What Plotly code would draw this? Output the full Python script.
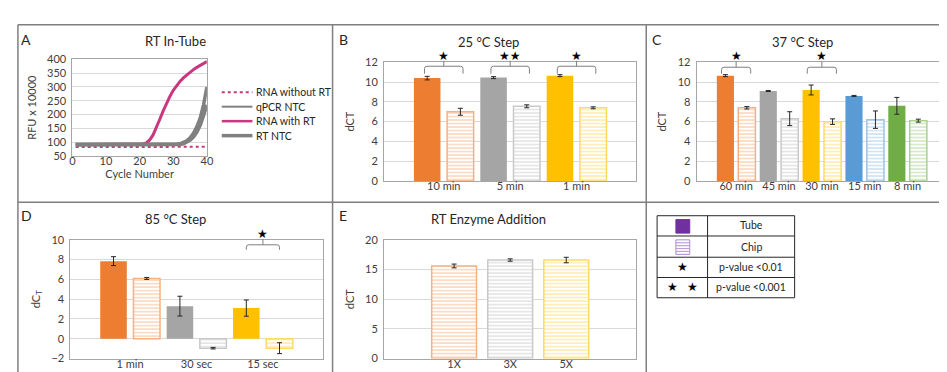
import plotly.graph_objects as go

W, H = 947, 372

# ---------------- data ----------------
cycles = list(range(1, 41))
rna_without_rt = [82, 82, 82, 82, 82, 82, 82, 82, 82, 82, 82, 82, 82, 82, 82, 82, 82, 82, 82, 82,
                  82, 82, 82, 82, 82, 82, 82, 82, 82, 82, 82, 82, 82, 83, 83, 83, 83, 83, 83, 83]
qpcr_ntc = [90, 90, 90, 90, 90, 90, 90, 90, 90, 90, 90, 90, 90, 90, 90, 90, 90, 90, 90, 90,
            90, 90, 90, 90, 90, 90, 90, 90, 91, 91, 92, 94, 98, 105, 116, 132, 155, 187, 235, 300]
rna_with_rt = [91, 91, 91, 91, 91, 91, 91, 91, 91, 91, 91, 91, 91, 91, 91, 91, 91, 91, 91, 92,
               93, 97, 108, 126, 152, 183, 213, 241, 266, 288, 305, 320, 333, 344, 354, 363, 371, 378, 385, 392]
rt_ntc = [91, 91, 91, 91, 91, 91, 91, 91, 91, 91, 91, 91, 91, 91, 91, 91, 91, 91, 91, 91,
          91, 91, 91, 91, 91, 91, 91, 91, 91, 91, 91, 92, 95, 100, 108, 120, 138, 163, 195, 235]

b_cats = ["10 min", "5 min", "1 min"]
b_tube = [10.4, 10.45, 10.65]
b_tube_err = [0.18, 0.1, 0.1]
b_chip = [7.0, 7.55, 7.4]
b_chip_err = [0.35, 0.15, 0.1]
b_sig = [(0, "★"), (1, "★★"), (2, "★")]

c_cats = ["60 min", "45 min", "30 min", "15 min", "8 min"]
c_tube = [10.65, 9.1, 9.2, 8.6, 7.6]
c_tube_err = [0.1, 0.05, 0.5, 0.05, 0.85]
c_chip = [7.4, 6.3, 6.0, 6.2, 6.1]
c_chip_err = [0.12, 0.7, 0.28, 0.88, 0.15]
c_sig = [(0, "★"), (2, "★")]

d_cats = ["1 min", "30 sec", "15 sec"]
d_tube = [7.85, 3.3, 3.1]
d_tube_err = [0.45, 1.0, 0.82]
d_chip = [6.1, -0.95, -0.95]
d_chip_err = [0.1, 0.08, 0.55]
d_sig = [(2, "★")]

e_cats = ["1X", "3X", "5X"]
e_chip = [15.6, 16.6, 16.6]
e_chip_err = [0.32, 0.2, 0.46]

# ---------------- style ----------------
FONT = "Lato, 'Open Sans', sans-serif"
TXT = "#404040"
GRID = "#D9D9D9"
BOX = "#A6A6A6"
MAG = "#C9377E"
GRAY_LINE = "#808080"
tube_cols = ["#ED7D31", "#A5A5A5", "#FFC000", "#5B9BD5", "#70AD47"]
chip_cols = ["#F4B183", "#C9C9C9", "#FFD966", "#9DC3E6", "#A9D18E"]


def X(px):
    return px / W


def Y(py):
    return 1 - py / H


# axis layout (pixel boxes)
boxes = {
    "A": dict(x0=62, x1=198, y0=46, y1=146),
    "B": dict(x0=377, x1=632, y0=49, y1=172),
    "C": dict(x0=693, x1=946, y0=49, y1=172),
    "D": dict(x0=60, x1=315, y0=233, y1=356),
    "E": dict(x0=377, x1=632, y0=233, y1=356),
}
ranges = {
    "A": ([0, 40], [50, 400]),
    "B": ([-0.9, 2.9], [0, 12]),
    "C": ([-0.92, 4.92], [0, 12]),
    "D": ([-0.9, 2.9], [-2, 10]),
    "E": ([-1.25, 3.25], [0, 20]),
}
axn = {"A": "", "B": "2", "C": "3", "D": "4", "E": "5"}

fig = go.Figure()

# ---- panel A lines ----
fig.add_trace(go.Scatter(x=cycles, y=rna_without_rt, mode="lines",
                         line=dict(color=MAG, width=2, dash="dot"), xaxis="x", yaxis="y", showlegend=False))
fig.add_trace(go.Scatter(x=cycles, y=qpcr_ntc, mode="lines",
                         line=dict(color=GRAY_LINE, width=3.5), xaxis="x", yaxis="y", showlegend=False))
fig.add_trace(go.Scatter(x=cycles, y=rna_with_rt, mode="lines",
                         line=dict(color=MAG, width=3), xaxis="x", yaxis="y", showlegend=False))
fig.add_trace(go.Scatter(x=cycles, y=rt_ntc, mode="lines",
                         line=dict(color=GRAY_LINE, width=4), xaxis="x", yaxis="y", showlegend=False))


def err(arr):
    return dict(type="data", array=arr, color="#262626", thickness=1, width=2.5)


def chip_marker(k):
    return dict(color="white", line=dict(color=chip_cols[:k], width=1.5),
                pattern=dict(shape="-", fgcolor=chip_cols[:k], bgcolor="white",
                             fillmode="overlay", size=3.5, solidity=0.45))


def add_pair(cats, tube, tube_err, chip, chip_err, n):
    k = len(cats)
    fig.add_trace(go.Bar(x=cats, y=tube, error_y=err(tube_err),
                         marker=dict(color=tube_cols[:k], line=dict(width=0)),
                         xaxis="x" + n, yaxis="y" + n, showlegend=False))
    fig.add_trace(go.Bar(x=cats, y=chip, error_y=err(chip_err), marker=chip_marker(k),
                         xaxis="x" + n, yaxis="y" + n, showlegend=False))


add_pair(b_cats, b_tube, b_tube_err, b_chip, b_chip_err, "2")
add_pair(c_cats, c_tube, c_tube_err, c_chip, c_chip_err, "3")
add_pair(d_cats, d_tube, d_tube_err, d_chip, d_chip_err, "4")
fig.add_trace(go.Bar(x=e_cats, y=e_chip, error_y=err(e_chip_err), marker=chip_marker(3),
                     xaxis="x5", yaxis="y5", showlegend=False))

layout = dict(
    width=W, height=H, margin=dict(l=0, r=0, t=0, b=0),
    paper_bgcolor="white", plot_bgcolor="white",
    font=dict(family=FONT, size=11, color=TXT),
    barmode="group", bargap=0, bargroupgap=0.2,
    shapes=[], annotations=[],
)

ytitles = {"A": "RFU x 10000", "B": "dCT", "C": "dCT", "D": "dC<sub>T</sub>", "E": "dCT"}
for key, b in boxes.items():
    n = axn[key]
    xr, yr = ranges[key]
    layout["xaxis" + n] = dict(
        domain=[X(b["x0"]), X(b["x1"])], range=xr, anchor="y" + n,
        showline=True, mirror=True, linecolor=BOX, linewidth=1,
        showgrid=False, zeroline=False, ticks="", ticklen=0, ticklabelstandoff=-5,
        tickfont=dict(size=11, color=TXT), fixedrange=True,
    )
    layout["yaxis" + n] = dict(
        domain=[Y(b["y1"]), Y(b["y0"])], range=yr, anchor="x" + n,
        showline=True, mirror=True, linecolor=BOX, linewidth=1,
        showgrid=True, gridcolor=GRID, zeroline=False, ticks="", ticklen=0, ticklabelstandoff=3,
        tickfont=dict(size=11, color=TXT),
        title=dict(text=ytitles[key], font=dict(size=11, color=TXT), standoff=8),
        fixedrange=True,
    )
layout["xaxis"]["dtick"] = 10
layout["xaxis"]["title"] = dict(text="Cycle Number", font=dict(size=11, color=TXT), standoff=2)
layout["yaxis"]["dtick"] = 50
layout["yaxis2"]["dtick"] = 2
layout["yaxis3"]["dtick"] = 2
layout["yaxis4"]["dtick"] = 2
layout["yaxis5"]["dtick"] = 5

shapes = layout["shapes"]
ann = layout["annotations"]

# frame
FR = dict(color="#7F7F7F", width=1.5)
for (x0, y0, x1, y1) in [(7, 10, 947, 10), (7, 10, 7, 372), (325, 10, 325, 372),
                         (642, 10, 642, 372), (7, 194, 947, 194)]:
    shapes.append(dict(type="line", xref="paper", yref="paper",
                       x0=X(x0), y0=Y(y0), x1=X(x1), y1=Y(y1), line=FR))

# panel letters and titles
for t, x, y in [("A", 15, 25), ("B", 336, 25), ("C", 653, 25), ("D", 16, 208), ("E", 336, 208)]:
    ann.append(dict(text=t, x=X(x), y=Y(y), xref="paper", yref="paper", showarrow=False,
                    font=dict(size=14, color="#262626"), xanchor="center", yanchor="middle"))
for t, x, y in [("RT In-Tube", 166, 27), ("25 °C Step", 483, 28), ("37 °C Step", 800, 28),
                ("85 °C Step", 166, 211), ("RT Enzyme Addition", 483, 211)]:
    ann.append(dict(text=t, x=X(x), y=Y(y), xref="paper", yref="paper", showarrow=False,
                    font=dict(size=13, color="#262626"), xanchor="center", yanchor="middle"))

# panel A legend
for label, py, col, wd, dash in [("RNA without RT", 80, MAG, 2, "dot"),
                                  ("qPCR NTC", 95, GRAY_LINE, 2, "solid"),
                                  ("RNA with RT", 110, MAG, 2.5, "solid"),
                                  ("RT NTC", 125, GRAY_LINE, 3.5, "solid")]:
    shapes.append(dict(type="line", xref="paper", yref="paper", x0=X(213), x1=X(244),
                       y0=Y(py), y1=Y(py), line=dict(color=col, width=wd, dash=dash)))
    ann.append(dict(text=label, x=X(246), y=Y(py), xref="paper", yref="paper", showarrow=False,
                    font=dict(size=10.5, color="#262626"), xanchor="left", yanchor="middle"))


# significance brackets
def to_px(key, xv, yv):
    b = boxes[key]
    xr, yr = ranges[key]
    px = b["x0"] + (xv - xr[0]) / (xr[1] - xr[0]) * (b["x1"] - b["x0"])
    py = b["y1"] - (yv - yr[0]) / (yr[1] - yr[0]) * (b["y1"] - b["y0"])
    return px, py


def bracket(key, idx, stars, half, y_end, y_line, y_top, y_star):
    xl, pe = to_px(key, idx - half, y_end)
    xr_, pl = to_px(key, idx + half, y_line)
    xm, pt = to_px(key, idx, y_top)
    _, ps = to_px(key, idx, y_star)
    r = 2.5
    path = (f"M {X(xl)},{Y(pe)} L {X(xl)},{Y(pl + r)} Q {X(xl)},{Y(pl)} {X(xl + r)},{Y(pl)} "
            f"L {X(xr_ - r)},{Y(pl)} Q {X(xr_)},{Y(pl)} {X(xr_)},{Y(pl + r)} L {X(xr_)},{Y(pe)} "
            f"M {X(xm)},{Y(pl)} L {X(xm)},{Y(pt)}")
    shapes.append(dict(type="path", xref="paper", yref="paper", path=path,
                       line=dict(color="#7F7F7F", width=1)))
    ann.append(dict(text=stars, x=X(xm), y=Y(ps), xref="paper", yref="paper", showarrow=False,
                    font=dict(size=12, color="black", family="DejaVu Sans"),
                    xanchor="center", yanchor="middle"))


for idx, s in b_sig:
    bracket("B", idx, s, 0.29, 10.85, 11.6, 12.15, 12.65)
for idx, s in c_sig:
    bracket("C", idx, s, 0.34, 10.85, 11.5, 12.1, 12.6)
for idx, s in d_sig:
    bracket("D", idx, s, 0.25, 9.0, 9.5, 10.1, 10.55)

# legend table (panel F)
TB = dict(color="#262626", width=1)
shapes.append(dict(type="rect", xref="paper", yref="paper", x0=X(653), x1=X(792),
                   y0=Y(293), y1=Y(208), line=TB))
shapes.append(dict(type="line", xref="paper", yref="paper", x0=X(704), x1=X(704),
                   y0=Y(293), y1=Y(208), line=TB))
for py in [229, 251, 272]:
    shapes.append(dict(type="line", xref="paper", yref="paper", x0=X(653), x1=X(792),
                       y0=Y(py), y1=Y(py), line=TB))
shapes.append(dict(type="rect", xref="paper", yref="paper", x0=X(672), x1=X(686),
                   y0=Y(226), y1=Y(212), fillcolor="#7030A0", line=dict(color="#7030A0", width=1)))
shapes.append(dict(type="rect", xref="paper", yref="paper", x0=X(672), x1=X(686),
                   y0=Y(248), y1=Y(233), fillcolor="white", line=dict(color="#A58BC6", width=1)))
for py in [236, 239, 242, 245]:
    shapes.append(dict(type="line", xref="paper", yref="paper", x0=X(672), x1=X(686),
                       y0=Y(py), y1=Y(py), line=dict(color="#B9A3D6", width=1.2)))
for t, py in [("Tube", 218), ("Chip", 240), ("p-value <0.01", 261), ("p-value <0.001", 282)]:
    ann.append(dict(text=t, x=X(748), y=Y(py), xref="paper", yref="paper", showarrow=False,
                    font=dict(size=10.5, color="#262626"), xanchor="center", yanchor="middle"))
for t, px, py in [("★", 679, 261), ("★", 669, 282), ("★", 689, 282)]:
    ann.append(dict(text=t, x=X(px), y=Y(py), xref="paper", yref="paper", showarrow=False,
                    font=dict(size=12, color="black", family="DejaVu Sans"),
                    xanchor="center", yanchor="middle"))

fig.update_layout(**layout)
fig.write_html("out.html")
